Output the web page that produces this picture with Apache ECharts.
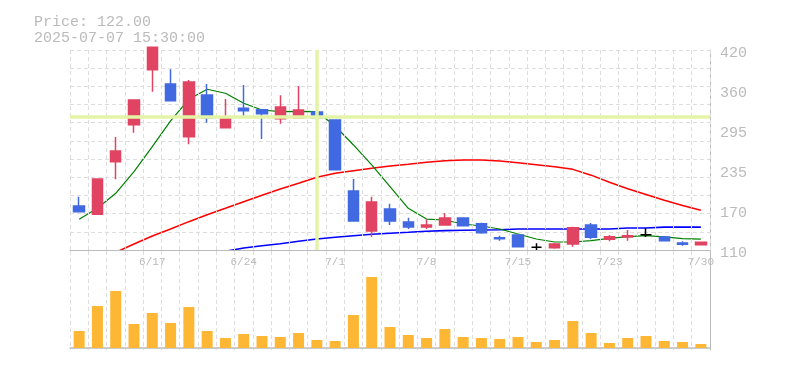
<!DOCTYPE html>
<html>
<head>
<meta charset="utf-8">
<script src="https://cdn.jsdelivr.net/npm/echarts@6/dist/echarts.min.js"></script>
<style>
html,body{margin:0;padding:0;background:#fff;}
#chart{width:785px;height:370px;}
</style>
</head>
<body>
<div id="chart"></div>
<script>
// ---- data ----
const dates = ['6/11','6/12','6/13','6/16','6/17','6/18','6/19','6/20','6/23','6/24','6/25','6/26','6/27','6/30',
  '7/1','7/2','7/3','7/4','7/7','7/8','7/9','7/10','7/11','7/14','7/15','7/16','7/17','7/18','7/22','7/23','7/24','7/25','7/28','7/29','7/30'];
const xTickLabels = ['6/17','6/24','7/1','7/8','7/15','7/23','7/30'];
const yTickLabels = ['110','170','235','295','360','420'];

const openP  = [178.2,165.3,246.9,304.2,389.5,367.3,285.6,350.3,299.6,329.6,327.5,313.5,315.0,323.9,311.5,201.5,139.5,173.6,153.4,145.7,148.8,159.6,150.8,129.0,133.3,114.2,113.6,119.3,148.8,126.6,130.2,133.8,130.2,120.9,118.2];
const closeP = [169.4,220.0,263.5,342.5,424.2,341.4,370.4,315.0,316.2,325.9,321.3,331.7,327.0,315.0,234.5,155.0,184.4,155.0,145.7,148.8,159.6,147.7,136.8,127.5,115.1,114.2,119.3,144.6,129.7,130.6,132.2,133.8,124.4,118.8,122.0];
const highP  = [192.6,220.0,285.0,342.5,424.2,390.0,373.5,367.3,344.0,365.8,327.5,350.0,364.2,328.0,311.5,220.0,192.6,181.8,160.0,157.6,167.4,159.6,152.3,132.0,133.3,120.4,120.8,146.0,151.9,133.3,141.0,144.1,131.7,123.5,123.0];
const lowP   = [169.4,165.3,219.6,291.8,355.4,341.4,273.8,307.3,299.6,315.0,282.0,305.8,315.0,311.5,234.5,155.0,130.6,148.8,142.6,142.6,147.7,147.7,135.3,124.4,115.1,110.0,112.0,115.0,126.6,123.5,124.4,130.2,123.0,116.7,117.0];

const volume = [17000,42000,57000,24000,35000,25000,41000,17000,10000,14000,12000,11000,15000,8000,7000,33000,71000,21000,13000,10000,19000,11000,10000,9000,11000,6000,8000,27000,15000,5000,10000,12000,7000,6000,4000];

const maShort = [157.6,174.6,197.9,231.4,270.1,310.0,343.6,359.2,353.0,337.4,327.0,324.4,325.0,324.4,302.2,272.8,241.8,208.1,174.6,158.0,156.5,150.3,147.2,142.6,134.8,127.0,122.4,122.4,124.4,128.0,130.7,132.2,130.2,127.5,127.0];
const maMid = ['-','-',106.4,119.3,131.7,142.6,153.9,164.7,174.6,184.9,194.8,204.5,213.4,222.7,228.9,232.9,236.6,240.2,242.8,245.9,248.4,249.5,249.5,248.0,245.3,242.3,239.2,235.0,226.0,215.0,205.0,196.0,187.0,179.0,171.5];
const maLong = ['-','-','-','-','-','-','-','-',108.0,113.1,116.7,119.8,123.5,127.0,129.7,132.2,134.3,135.9,137.4,139.0,140.0,140.5,141.0,141.5,142.5,142.5,142.5,142.5,142.5,142.5,144.0,144.0,145.5,145.5,145.5];

const crossDate = '6/30';
const crossPrice = 316;
const priceText = 'Price: 122.00';
const timeText = '2025-07-07 15:30:00';

// ---- styles ----
const UP = '#E04462', DOWN = '#4169E1', DOJI = '#000000';
const MONO = '"Liberation Mono", "DejaVu Sans Mono", monospace';
const GRIDC = '#dddddd', AXISC = '#bbbbbb', TEXTC = '#bbbbbb';

const candleData = dates.map((d, i) => {
  const o = openP[i], c = closeP[i];
  const col = o === c ? DOJI : (c > o ? UP : DOWN);
  return { value: [o, c, lowP[i], highP[i]], itemStyle: { color: col, color0: col, borderColor: col, borderColor0: col } };
});

const chart = echarts.init(document.getElementById('chart'), null, { renderer: 'canvas' });
chart.setOption({
  animation: false,
  backgroundColor: '#ffffff',
  title: {
    text: priceText + '\n' + timeText,
    left: 29, top: 9,
    textStyle: { fontFamily: MONO, fontSize: 15, lineHeight: 16, color: TEXTC, fontWeight: 'normal' }
  },
  grid: [
    { left: 70, right: 75, top: 50, height: 200 },
    { left: 70, right: 75, top: 251, height: 99 }
  ],
  xAxis: [
    {
      type: 'category', gridIndex: 0, data: dates, boundaryGap: true,
      axisLine: { show: true, lineStyle: { color: AXISC, width: 1 } },
      axisTick: { show: false },
      axisLabel: {
        show: true, margin: 7, color: TEXTC, fontFamily: MONO, fontSize: 11,
        interval: (i, v) => xTickLabels.indexOf(v) >= 0
      },
      splitLine: { show: true, interval: 0, lineStyle: { color: GRIDC, type: [4, 3], width: 1 } },
      z: 5
    },
    {
      type: 'category', gridIndex: 1, data: dates, boundaryGap: true,
      axisLine: { show: true, lineStyle: { color: AXISC, width: 1.5 } },
      axisTick: { show: false },
      axisLabel: { show: false },
      splitLine: { show: true, interval: 0, lineStyle: { color: GRIDC, type: [4, 3], width: 1 } }
    }
  ],
  yAxis: [
    {
      type: 'value', gridIndex: 0, position: 'right', min: 110, max: 420, interval: 62,
      axisLine: { show: true, lineStyle: { color: AXISC, width: 1 } },
      axisTick: { show: false },
      axisLabel: { show: true, margin: 10,
        formatter: (v, idx) => '{t|' + yTickLabels[idx] + '}',
        rich: { t: { color: TEXTC, fontFamily: MONO, fontSize: 15, padding: [7, 0, 0, 0] } } },
      splitLine: { show: false }
    },
    {
      type: 'value', gridIndex: 1, position: 'right', min: -2000, max: 97000,
      axisLine: { show: true, lineStyle: { color: AXISC, width: 1 } },
      axisTick: { show: false },
      axisLabel: { show: false },
      splitLine: { show: false }
    },
    {
      type: 'value', gridIndex: 0, position: 'left', min: 0, max: 11, interval: 1,
      axisLine: { show: false }, axisTick: { show: false }, axisLabel: { show: false },
      splitLine: { show: true, lineStyle: { color: GRIDC, type: [4, 3], width: 1 } }
    }
  ],
  series: [
    {
      name: 'cross', type: 'line', xAxisIndex: 0, yAxisIndex: 0, data: [], z: 1,
      markLine: {
        silent: true, symbol: ['none', 'none'], label: { show: false },
        lineStyle: { color: '#e4f4a6', width: 3.5, type: 'solid' },
        data: [{ xAxis: crossDate }, { yAxis: crossPrice }]
      }
    },
    { name: 'MA long', type: 'line', xAxisIndex: 0, yAxisIndex: 0, data: maLong, showSymbol: false, z: 2,
      lineStyle: { color: '#0000ff', width: 1.6 } },
    { name: 'MA mid', type: 'line', xAxisIndex: 0, yAxisIndex: 0, data: maMid, showSymbol: false, z: 2,
      lineStyle: { color: '#ff0000', width: 1.5 } },
    { name: 'MA short', type: 'line', xAxisIndex: 0, yAxisIndex: 0, data: maShort, showSymbol: false, z: 2,
      lineStyle: { color: '#008000', width: 1.2 } },
    {
      name: 'price', type: 'candlestick', xAxisIndex: 0, yAxisIndex: 0, data: candleData, z: 3,
      barWidth: 11, clip: false,
      itemStyle: { color: UP, color0: DOWN, borderColor: UP, borderColor0: DOWN, borderColorDoji: DOJI, borderWidth: 1.5 }
    },
    {
      name: 'volume', type: 'bar', xAxisIndex: 1, yAxisIndex: 1, data: volume, barWidth: 11,
      itemStyle: { color: '#fdb735' }
    }
  ]
});
</script>
</body>
</html>
